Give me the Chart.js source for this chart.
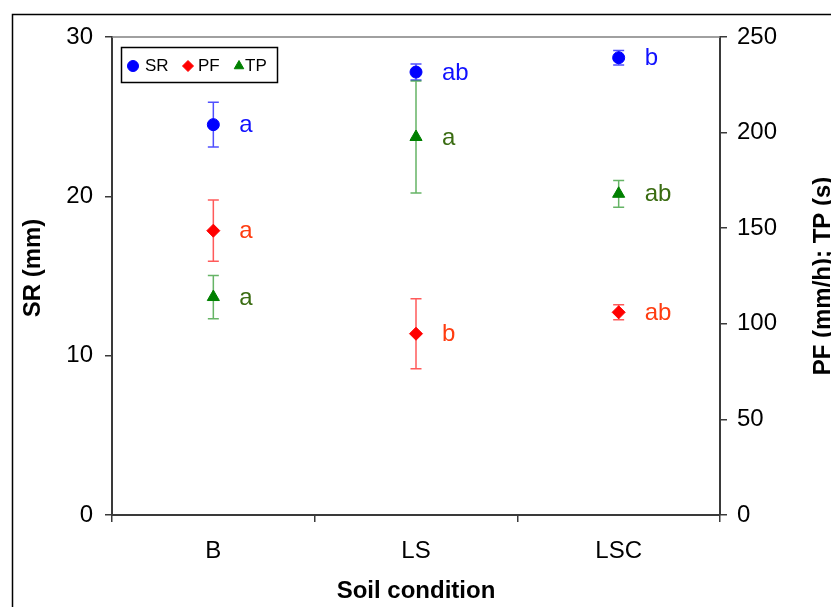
<!DOCTYPE html>
<html><head><meta charset="utf-8">
<script src="https://cdn.jsdelivr.net/npm/chart.js@4.4.1/dist/chart.umd.min.js"></script>
<style>html,body{margin:0;padding:0;background:#fff;} canvas{display:block;}</style>
</head><body>
<canvas id="c" width="831" height="607"></canvas>
<script>
// ---- data ----
const categories = ['B', 'LS', 'LSC'];
const srMean = [24.5, 27.8, 28.7];
const srErr  = [1.4, 0.5, 0.45];
const pfMean = [148.7, 94.8, 106];
const pfErr  = [16, 18.3, 3.9];
const tpMean = [114, 197.7, 168];
const tpErr  = [11.3, 29.3, 7];
const srLetters = ['a', 'ab', 'b'];
const pfLetters = ['a', 'b', 'ab'];
const tpLetters = ['a', 'a', 'ab'];
const leftTicks = [0, 10, 20, 30];
const rightTicks = [0, 50, 100, 150, 200, 250];

const FONT = "'Liberation Sans', Arial, sans-serif";
const errInfo = [
  {err: srErr, letters: srLetters, bar: 'rgba(20,20,255,0.75)', text: '#1010ff'},
  {err: pfErr, letters: pfLetters, bar: 'rgba(255,20,20,0.7)', text: '#ff3c10'},
  {err: tpErr, letters: tpLetters, bar: 'rgba(20,140,20,0.65)', text: '#3a6c12'}
];

const decorPlugin = {
  id: 'decor',
  beforeDraw(chart) {
    const ctx = chart.ctx;
    ctx.save();
    ctx.fillStyle = '#fff';
    ctx.fillRect(0, 0, chart.width, chart.height);
    ctx.restore();
  },
  beforeDatasetsDraw(chart) {
    const ctx = chart.ctx;
    const xs = chart.scales.x;
    ctx.save();
    chart.data.datasets.forEach((ds, di) => {
      const sc = chart.scales[ds.yAxisID];
      const info = errInfo[di];
      ctx.strokeStyle = info.bar;
      ctx.lineWidth = 1.5;
      ds.data.forEach((v, i) => {
        const x = xs.getPixelForValue(i);
        const yt = sc.getPixelForValue(v + info.err[i]);
        const yb = sc.getPixelForValue(v - info.err[i]);
        ctx.beginPath();
        ctx.moveTo(x, yt); ctx.lineTo(x, yb);
        ctx.moveTo(x - 5.5, yt); ctx.lineTo(x + 5.5, yt);
        ctx.moveTo(x - 5.5, yb); ctx.lineTo(x + 5.5, yb);
        ctx.stroke();
      });
    });
    ctx.restore();
  },
  afterDatasetsDraw(chart) {
    const ctx = chart.ctx;
    const xs = chart.scales.x;
    const ca = chart.chartArea;
    ctx.save();
    // letters
    ctx.font = '24px ' + FONT;
    ctx.textAlign = 'left';
    ctx.textBaseline = 'middle';
    chart.data.datasets.forEach((ds, di) => {
      const sc = chart.scales[ds.yAxisID];
      const info = errInfo[di];
      ctx.fillStyle = info.text;
      ds.data.forEach((v, i) => {
        const x = xs.getPixelForValue(i);
        const y = sc.getPixelForValue(v);
        ctx.fillText(info.letters[i], x + 26, y + 1);
      });
    });
    // top border of plot
    ctx.strokeStyle = '#808080';
    ctx.lineWidth = 1.5;
    ctx.beginPath();
    ctx.moveTo(ca.left, ca.top); ctx.lineTo(ca.right, ca.top);
    ctx.stroke();
    // outer frame
    ctx.strokeStyle = '#000';
    ctx.lineWidth = 1.5;
    ctx.beginPath();
    ctx.moveTo(12.5, chart.height); ctx.lineTo(12.5, 14.5); ctx.lineTo(chart.width, 14.5);
    ctx.stroke();
    // legend box
    ctx.lineWidth = 1.5;
    ctx.strokeStyle = '#000';
    ctx.strokeRect(121.5, 47.5, 156, 35);
    const items = [
      {style: 'circle', color: '#0000ff', label: 'SR', mx: 133, tx: 145},
      {style: 'rectRot', color: '#ff0000', label: 'PF', mx: 188, tx: 198},
      {style: 'triangle', color: '#008000', label: 'TP', mx: 239, tx: 245}
    ];
    ctx.font = '17px ' + FONT;
    ctx.textBaseline = 'middle';
    items.forEach(it => {
      ctx.fillStyle = it.color;
      ctx.strokeStyle = it.color;
      ctx.lineWidth = 1;
      Chart.helpers.drawPoint(ctx, {pointStyle: it.style, radius: 5.5, borderWidth: 1, rotation: 0}, it.mx, 66);
      ctx.fillStyle = '#000';
      ctx.fillText(it.label, it.tx, 66);
    });
    // axis titles
    ctx.fillStyle = '#000';
    ctx.font = 'bold 24px ' + FONT;
    ctx.textAlign = 'center';
    ctx.textBaseline = 'middle';
    ctx.fillText('Soil condition', (ca.left + ca.right) / 2, 591);
    ctx.save();
    ctx.translate(33, 268);
    ctx.rotate(-Math.PI / 2);
    ctx.fillText('SR (mm)', 0, 0);
    ctx.restore();
    ctx.save();
    ctx.translate(823, 276);
    ctx.rotate(-Math.PI / 2);
    ctx.fillText('PF (mm/h); TP (s)', 0, 0);
    ctx.restore();
    ctx.restore();
  }
};

const axisColor = '#3a3a3a';
new Chart(document.getElementById('c'), {
  type: 'line',
  data: {
    labels: categories,
    datasets: [
      {label: 'SR', data: srMean, yAxisID: 'y', showLine: false, pointStyle: 'circle',
       pointRadius: 6, backgroundColor: '#0000ff', borderColor: '#0000ff', pointBorderWidth: 1},
      {label: 'PF', data: pfMean, yAxisID: 'y1', showLine: false, pointStyle: 'rectRot',
       pointRadius: 6.5, backgroundColor: '#ff0000', borderColor: '#ff0000', pointBorderWidth: 1},
      {label: 'TP', data: tpMean, yAxisID: 'y1', showLine: false, pointStyle: 'triangle',
       pointRadius: 7, backgroundColor: '#008000', borderColor: '#008000', pointBorderWidth: 1}
    ]
  },
  options: {
    responsive: false,
    animation: false,
    devicePixelRatio: 1,
    layout: {padding: {top: 37, left: 0, right: 0, bottom: 0}},
    plugins: {legend: {display: false}, tooltip: {enabled: false}},
    scales: {
      x: {
        type: 'category', position: 'bottom', offset: true,
        grid: {drawOnChartArea: false, drawTicks: true, tickLength: 7, color: axisColor, lineWidth: 1.5, offset: true},
        border: {display: true, color: axisColor, width: 2},
        ticks: {font: {family: FONT, size: 24}, color: '#000', padding: 15},
        afterFit(s) { s.height = 607 - 515; }
      },
      y: {
        type: 'linear', position: 'left', min: 0, max: 30,
        afterBuildTicks(s) { s.ticks = leftTicks.map(v => ({value: v})); },
        grid: {drawOnChartArea: false, drawTicks: true, tickLength: 7, color: axisColor, lineWidth: 1.5},
        border: {display: true, color: axisColor, width: 2},
        ticks: {font: {family: FONT, size: 24}, color: '#000', padding: 12},
        afterFit(s) { s.width = 112; }
      },
      y1: {
        type: 'linear', position: 'right', min: 0, max: 250,
        afterBuildTicks(s) { s.ticks = rightTicks.map(v => ({value: v})); },
        grid: {drawOnChartArea: false, drawTicks: true, tickLength: 7, color: axisColor, lineWidth: 1.5},
        border: {display: true, color: axisColor, width: 2},
        ticks: {font: {family: FONT, size: 24}, color: '#000', padding: 10},
        afterFit(s) { s.width = 831 - 720; }
      }
    }
  },
  plugins: [decorPlugin]
});
</script>
</body></html>
